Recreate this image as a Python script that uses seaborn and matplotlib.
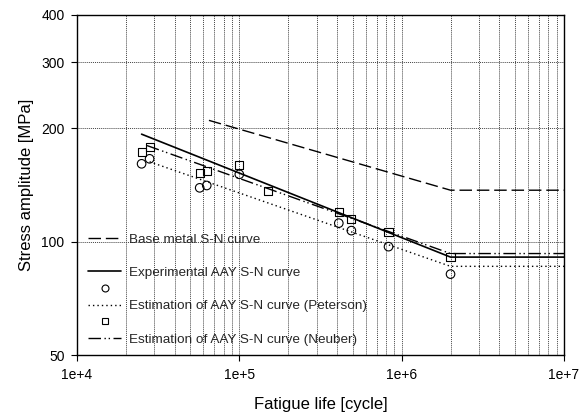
import matplotlib
matplotlib.use("Agg")
import matplotlib.pyplot as plt
from matplotlib.lines import Line2D
from matplotlib.ticker import FixedLocator, FixedFormatter, LogLocator, NullFormatter
import seaborn as sns

# ---- data ----
circle_n = [2.5e4, 2.8e4, 5.7e4, 6.3e4, 1.0e5, 4.1e5, 4.9e5, 8.3e5, 2.0e6]
circle_s = [161, 166, 139, 141, 151, 112, 107, 97, 82]
square_n = [2.5e4, 2.8e4, 5.7e4, 6.3e4, 1.0e5, 1.5e5, 4.1e5, 4.9e5, 8.3e5, 2.0e6]
square_s = [173, 178, 152, 154, 160, 136, 120, 115, 106, 91]

base_n = [6.5e4, 2.0e6, 1.0e7]
base_s = [210, 137, 137]
exp_n = [2.5e4, 2.0e6, 1.0e7]
exp_s = [193, 91, 91]
pet_n = [2.8e4, 2.0e6, 1.0e7]
pet_s = [163, 86, 86]
neu_n = [2.7e4, 2.0e6, 1.0e7]
neu_s = [180, 93, 93]

y_ticks = [50, 100, 200, 300, 400]
y_tick_labels = ["50", "100", "200", "300", "400"]
x_ticks = [1e4, 1e5, 1e6, 1e7]
x_tick_labels = ["1e+4", "1e+5", "1e+6", "1e+7"]

labels = ["Base metal S-N curve", "Experimental AAY S-N curve",
          "Estimation of AAY S-N curve (Peterson)",
          "Estimation of AAY S-N curve (Neuber)"]

sns.set_theme(style="white")
plt.rcParams['font.family'] = ['Liberation Sans', 'DejaVu Sans']

fig = plt.figure(figsize=(5.85, 4.12), dpi=100)
ax = fig.add_axes([0.1316, 0.1383, 0.8325, 0.8253])
ax.set_xscale("log")
ax.set_yscale("log")

base_ls = (0, (9, 3.5))
neu_ls = (0, (9, 2.5, 1, 2, 1, 2.5))
pet_ls = (0, (1, 2.2))

sns.lineplot(x=base_n, y=base_s, ax=ax, color="black", lw=1.0, linestyle=base_ls, sort=False)
sns.lineplot(x=exp_n, y=exp_s, ax=ax, color="black", lw=1.2, sort=False)
sns.lineplot(x=pet_n, y=pet_s, ax=ax, color="black", lw=1.0, linestyle=pet_ls, sort=False)
sns.lineplot(x=neu_n, y=neu_s, ax=ax, color="black", lw=1.0, linestyle=neu_ls, sort=False)

sns.scatterplot(x=circle_n, y=circle_s, ax=ax, marker="o", s=38,
                facecolor="none", edgecolor="black", linewidth=0.8, zorder=5)
sns.scatterplot(x=square_n, y=square_s, ax=ax, marker="s", s=34,
                facecolor="none", edgecolor="black", linewidth=0.8, zorder=5)

ax.set_xlim(1e4, 1e7)
ax.set_ylim(50, 400)

ax.xaxis.set_major_locator(FixedLocator(x_ticks))
ax.xaxis.set_major_formatter(FixedFormatter(x_tick_labels))
ax.xaxis.set_minor_locator(LogLocator(base=10, subs=[2, 3, 4, 5, 6, 7, 8, 9]))
ax.xaxis.set_minor_formatter(NullFormatter())
ax.yaxis.set_major_locator(FixedLocator(y_ticks))
ax.yaxis.set_major_formatter(FixedFormatter(y_tick_labels))
ax.yaxis.set_minor_locator(FixedLocator([]))

ax.tick_params(axis="both", which="major", direction="out", length=4, width=0.8,
               color="black", labelsize=10, labelcolor="black", pad=5, bottom=True, left=True)
ax.tick_params(axis="x", which="minor", length=0)

ax.grid(True, which="major", axis="both", color="#444444", linestyle=(0, (1, 1)), linewidth=0.7)
ax.grid(True, which="minor", axis="x", color="#444444", linestyle=(0, (1, 1)), linewidth=0.7)

for sp in ax.spines.values():
    sp.set_visible(True)
    sp.set_color("black")
    sp.set_linewidth(1.0)

ax.set_xlabel("Fatigue life [cycle]", fontsize=12, color="black", labelpad=11)
ax.set_ylabel("Stress amplitude [MPa]", fontsize=12, color="black", labelpad=5)

handles = [
    Line2D([], [], color="black", lw=1.0, linestyle=base_ls),
    Line2D([], [], color="none", lw=0),
    Line2D([], [], color="black", lw=1.2),
    Line2D([], [], color="none", marker="o", markersize=5, markerfacecolor="none",
           markeredgecolor="black", markeredgewidth=0.8, linestyle="none"),
    Line2D([], [], color="black", lw=1.0, linestyle=pet_ls),
    Line2D([], [], color="none", marker="s", markersize=5, markerfacecolor="none",
           markeredgecolor="black", markeredgewidth=0.8, linestyle="none"),
    Line2D([], [], color="black", lw=1.0, linestyle=neu_ls),
]
leg_labels = [labels[0], "", labels[1], "", labels[2], "", labels[3]]
leg = ax.legend(handles, leg_labels, loc="lower left", bbox_to_anchor=(0.018, 0.02),
                frameon=False, fontsize=9.7, handlelength=2.4, handletextpad=0.6,
                labelspacing=0.31, borderpad=0.2, borderaxespad=0)

fig.savefig("out.png", dpi=100)
